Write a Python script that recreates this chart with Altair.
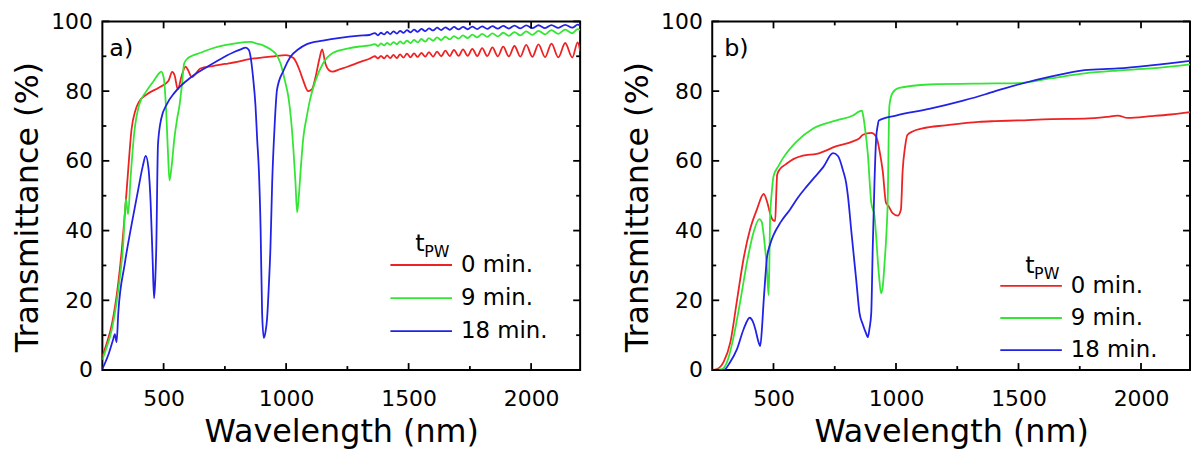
import altair as alt
import pandas as pd

FONT = "DejaVu Sans"
SERIES = ["0 min.", "9 min.", "18 min."]
COLORS = ["#ee2222", "#33e633", "#2222e6"]

# ---------------- tick values ----------------
X_MAJOR = [500, 1000, 1500, 2000]
X_MINOR = [750, 1250, 1750]
Y_MAJOR = [0, 20, 40, 60, 80, 100]
Y_MINOR = [10, 30, 50, 70, 90]

# ---------------- panel a) ----------------
# shared fringe wavelengths (peak / trough alternating) in the NIR
fringe_wl = [1362, 1375, 1387, 1400, 1412, 1425, 1438, 1452, 1465, 1479, 1493, 1508,
             1522, 1537, 1552, 1568, 1583, 1600, 1616, 1633, 1650, 1668, 1685, 1704,
             1722, 1741, 1760, 1780, 1800, 1821, 1842, 1864, 1886, 1909, 1932, 1956,
             1980, 2005, 2030, 2057, 2083, 2111, 2139, 2168, 2190, 2200]

a0_wl = [250, 265, 290, 315, 330, 342, 355, 369, 385, 400, 430, 480, 520, 535, 545,
         558, 572, 590, 600, 615, 650, 700, 750, 800, 850, 900, 950, 1000, 1030, 1055,
         1070, 1090, 1105, 1120, 1135, 1147, 1160, 1175, 1190, 1220, 1250, 1300, 1340]
a0_T = [4, 7, 13.5, 25, 35, 45, 57, 69, 74.5, 77, 79, 81, 83, 85.5, 84.5,
        80.5, 84, 87, 86, 84, 86.5, 87.2, 87.8, 88.4, 89.2, 89.6, 90.0, 90.3, 89.5, 86,
        83, 80, 80.5, 84, 89, 92, 88, 86, 85.6, 86.3, 87, 88.3, 89.3]
a0_fringe = [90.0, 89.4, 90.1, 89.4, 90.25, 89.5, 90.4, 89.5, 90.55, 89.6, 90.75, 89.7,
             90.85, 89.8, 91.0, 89.9, 91.2, 89.9, 91.35, 90.0, 91.6, 90.05, 91.85, 90.1,
             92.0, 90.1, 92.15, 90.05, 92.35, 90.05, 92.55, 89.95, 92.75, 89.95, 92.95, 89.9,
             93.25, 89.85, 93.4, 89.75, 93.65, 89.7, 93.8, 89.65, 94.0, 91.5]

a9_wl = [250, 265, 288, 315, 335, 346, 355, 365, 380, 400, 430, 460, 480, 490, 500,
         510, 518, 524, 532, 544, 555, 565, 575, 584, 600, 612, 650, 700, 750, 800,
         855, 882, 910, 936, 960, 977, 995, 1010, 1020, 1030, 1038, 1045, 1052, 1060, 1070,
         1085, 1098, 1120, 1151, 1192, 1250, 1300, 1340]
a9_T = [3, 6, 11.5, 23, 36, 49, 44.7, 55, 68, 76, 80, 83, 85, 85.6, 84,
        75, 62, 54.4, 58, 66.5, 72, 76, 82, 88, 89.5, 90, 91, 92.3, 93.2, 93.8,
        94.1, 93.6, 93, 92, 90.5, 88, 83, 78, 72, 63, 54, 45.2, 50, 58, 66.5,
        73, 77.7, 83, 88, 91, 92.2, 92.8, 93.1]
a9_fringe = [93.5, 92.95, 93.7, 93.1, 93.85, 93.3, 94.05, 93.45, 94.25, 93.6, 94.5, 93.8,
             94.7, 94.0, 94.95, 94.2, 95.2, 94.45, 95.4, 94.65, 95.6, 94.85, 95.8, 95.05,
             96.0, 95.2, 96.2, 95.4, 96.4, 95.55, 96.55, 95.7, 96.75, 95.85, 96.95, 96.0,
             97.15, 96.15, 97.3, 96.3, 97.5, 96.45, 97.65, 96.6, 97.8, 97.5]

a18_wl = [250, 274, 295, 301, 308, 315, 341, 370, 396, 415, 427, 438, 447, 455, 461,
          466, 470, 477, 490, 515, 544, 612, 679, 747, 790, 815, 835, 848, 855, 865,
          875, 882, 889, 896, 902, 909, 916, 922, 930, 936, 943, 953, 963, 990, 1017,
          1050, 1085, 1150, 1220, 1300, 1340]
a18_T = [0.3, 4.3, 9, 10.3, 8, 16.4, 30.3, 42, 51.7, 58.5, 61.4, 58, 48, 32, 20.6,
         26, 35, 64.7, 72, 76.5, 79.5, 84, 87, 89.8, 91.3, 92, 92.5, 91.8, 89.8, 84,
         75.8, 66, 57, 40, 16.4, 9.2, 11, 14.5, 25, 35, 53.5, 70, 80.5, 86, 89.8,
         92, 93.5, 94.5, 95.3, 95.9, 96.1]
a18_fringe = [96.65, 96.0, 96.75, 96.25, 97.0, 96.35, 97.15, 96.5, 97.3, 96.7, 97.5, 96.85,
              97.65, 97.0, 97.85, 97.2, 98.0, 97.4, 98.2, 97.5, 98.3, 97.6, 98.4, 97.7,
              98.45, 97.75, 98.5, 97.8, 98.6, 97.85, 98.65, 97.9, 98.7, 97.95, 98.8, 98.0,
              98.85, 98.05, 98.9, 98.1, 98.95, 98.15, 99.0, 98.2, 99.05, 98.8]

# ---------------- panel b) ----------------
b0_wl = [250, 270, 297, 324, 351, 378, 405, 432, 460, 475, 486, 498, 507, 511, 515,
         527, 550, 581, 620, 676, 757, 824, 851, 865, 899, 919, 935, 946, 959, 970,
         986, 1007, 1020, 1027, 1037, 1047, 1070, 1108, 1203, 1338, 1405, 1500, 1635, 1770,
         1860, 1905, 1946, 2040, 2120, 2200]
b0_T = [0, 0.3, 2.4, 8, 20, 32, 40.5, 46, 50.5, 48, 45, 43, 42.8, 50, 56,
        57.7, 59, 60.5, 61.5, 62, 64.2, 65.6, 66.5, 67.5, 68, 67, 62, 57, 48, 47,
        45, 44.3, 46, 57, 64, 67.5, 68.5, 69.3, 70.2, 71.2, 71.4, 71.6, 72, 72.1,
        72.6, 73, 72.3, 72.8, 73.3, 74]

b9_wl = [250, 290, 311, 338, 365, 392, 419, 442, 452, 460, 467, 473, 480, 483, 486,
         493, 500, 520, 541, 595, 662, 757, 824, 851, 861, 866, 872, 885, 899, 912,
         930, 939, 946, 953, 960, 966, 973, 986, 1013, 1135, 1405, 1500, 1635, 1770, 1905,
         2040, 2200]
b9_T = [0, 0.3, 2.4, 9.8, 20, 31, 39.6, 43.3, 42.5, 38.7, 34, 29.4, 21.5, 30, 43.3,
        51, 55.5, 58.5, 61, 65.6, 69.3, 71.6, 73, 74.2, 74.4, 73, 70.2, 62, 48, 44.3,
        27.6, 22, 24, 30.4, 38, 48, 75.8, 79.5, 80.9, 81.9, 82.2, 82.3, 83.7, 85.1, 85.9,
        86.5, 87.7]

b18_wl = [250, 297, 324, 351, 378, 403, 415, 426, 437, 446, 453, 460, 466, 473, 486,
          500, 530, 567, 600, 635, 670, 703, 743, 763, 784, 797, 804, 818, 838, 851,
          865, 878, 885, 892, 899, 905, 912, 919, 925, 930, 1000, 1135, 1270, 1365, 1405,
          1500, 1635, 1770, 1905, 2040, 2200]
b18_T = [0, 0, 2.4, 6, 11.7, 15, 14, 11.7, 8.5, 6.9, 12, 20, 26, 32, 36,
         38.7, 42.5, 46, 49.5, 52.6, 55.5, 58.2, 62.2, 61.4, 57.2, 53.5, 49.8, 39.6, 25.6, 16.4,
         13, 10.5, 9.4, 12, 16.4, 35, 53.5, 66.5, 70, 71.6, 73, 74.9, 77.2, 79.1, 80,
         81.9, 84.2, 86, 86.5, 87.4, 88.7]


def long_df(parts):
    rows = []
    for name, wl, tr in parts:
        for w, t in zip(wl, tr):
            rows.append({"series": name, "wl": w, "T": t})
    return pd.DataFrame(rows)


df_a = long_df([
    (SERIES[0], a0_wl + fringe_wl, a0_T + a0_fringe),
    (SERIES[1], a9_wl + fringe_wl, a9_T + a9_fringe),
    (SERIES[2], a18_wl + fringe_wl, a18_T + a18_fringe),
])
df_b = long_df([
    (SERIES[0], b0_wl, b0_T),
    (SERIES[1], b9_wl, b9_T),
    (SERIES[2], b18_wl, b18_T),
])

# ---------------- layout ----------------
W, H = 481, 351
MAJ, MIN = 7, 4
XSCALE = alt.Scale(domain=[250, 2200], nice=False, zero=False)
YSCALE = alt.Scale(domain=[0, 100], nice=False, zero=False)
COLOR = alt.Color("series:N", scale=alt.Scale(domain=SERIES, range=COLORS), legend=None)

X_AXIS = alt.Axis(values=X_MAJOR, format="d", ticks=False, tickSize=0, domain=False, grid=False,
                  labelFont=FONT, labelFontSize=22, labelPadding=19, labelColor="black",
                  labelFlush=False, labelOverlap=False,
                  title="Wavelength (nm)", titleFont=FONT, titleFontSize=32,
                  titleFontWeight="normal", titleColor="black", titlePadding=7)
Y_AXIS = alt.Axis(values=Y_MAJOR, format="d", ticks=False, tickSize=0, domain=False, grid=False,
                  labelFont=FONT, labelFontSize=22, labelPadding=10, labelColor="black",
                  labelFlush=False, labelOverlap=False,
                  title="Transmittance (%)", titleFont=FONT, titleFontSize=32,
                  titleFontWeight="normal", titleColor="black", titlePadding=6,
                  titleY=H / 2 + 11)


def tick_layers():
    layers = []
    for vals, ln in ((X_MAJOR, MAJ), (X_MINOR, MIN)):
        d = pd.DataFrame({"wl": vals})
        x = alt.X("wl:Q", scale=XSCALE, axis=X_AXIS)
        layers.append(alt.Chart(d).mark_rule(color="black", strokeWidth=1.8).encode(
            x=x, y=alt.value(H), y2=alt.value(H - ln)))
        layers.append(alt.Chart(d).mark_rule(color="black", strokeWidth=1.8).encode(
            x=x, y=alt.value(0), y2=alt.value(ln)))
    for vals, ln in ((Y_MAJOR, MAJ), (Y_MINOR, MIN)):
        d = pd.DataFrame({"T": vals})
        y = alt.Y("T:Q", scale=YSCALE, axis=Y_AXIS)
        layers.append(alt.Chart(d).mark_rule(color="black", strokeWidth=1.8).encode(
            y=y, x=alt.value(0), x2=alt.value(ln)))
        layers.append(alt.Chart(d).mark_rule(color="black", strokeWidth=1.8).encode(
            y=y, x=alt.value(W), x2=alt.value(W - ln)))
    return layers


def text_layer(txt, x, y, size):
    return alt.Chart(pd.DataFrame({"s": [txt]})).mark_text(
        align="left", baseline="middle", font=FONT, fontSize=size, color="black").encode(
        x=alt.value(x), y=alt.value(y), text="s:N")


def make_panel(df, tag, tag_x, leg_rows, leg_title_y):
    lines = alt.Chart(df).mark_line(strokeWidth=1.8, interpolate="monotone", clip=True).encode(
        x=alt.X("wl:Q", scale=XSCALE, axis=X_AXIS),
        y=alt.Y("T:Q", scale=YSCALE, axis=Y_AXIS),
        color=COLOR,
    )
    legend_layers = []
    for name, ly in zip(SERIES, leg_rows):
        d = pd.DataFrame({"series": [name]})
        legend_layers.append(alt.Chart(d).mark_rule(strokeWidth=1.8).encode(
            x=alt.value(290), x2=alt.value(352), y=alt.value(ly), color=COLOR))
        legend_layers.append(alt.Chart(d).mark_text(
            align="left", baseline="middle", font=FONT, fontSize=23, color="black").encode(
            x=alt.value(361), y=alt.value(ly), text="series:N"))
    extra = [text_layer("t", 315, leg_title_y, 24),
             text_layer("PW", 324, leg_title_y + 8, 16),
             text_layer(tag, tag_x, 28, 24)]
    return alt.layer(lines, *tick_layers(), *legend_layers, *extra).properties(
        width=W, height=H)


def rows_px(page_rows):
    # reference rows are given in page pixels of a 358.5 px tall plot starting at y = 13
    return [(p - 13) / 358.5 * H for p in page_rows]


panel_a = make_panel(df_a, "a)", 7, rows_px([263.5, 297.5, 331.5]), rows_px([242])[0])
panel_b = make_panel(df_b, "b)", 12, rows_px([285, 318, 351]), rows_px([265])[0])

chart = alt.hconcat(panel_a, panel_b, spacing=133, bounds="flush").properties(
    padding={"left": 3, "top": 0, "right": 0, "bottom": 0}
).configure(
    font=FONT,
    view=alt.ViewConfig(stroke="black", strokeWidth=2),
)

chart.save("out.html", embed_options={"renderer": "svg", "actions": False})
